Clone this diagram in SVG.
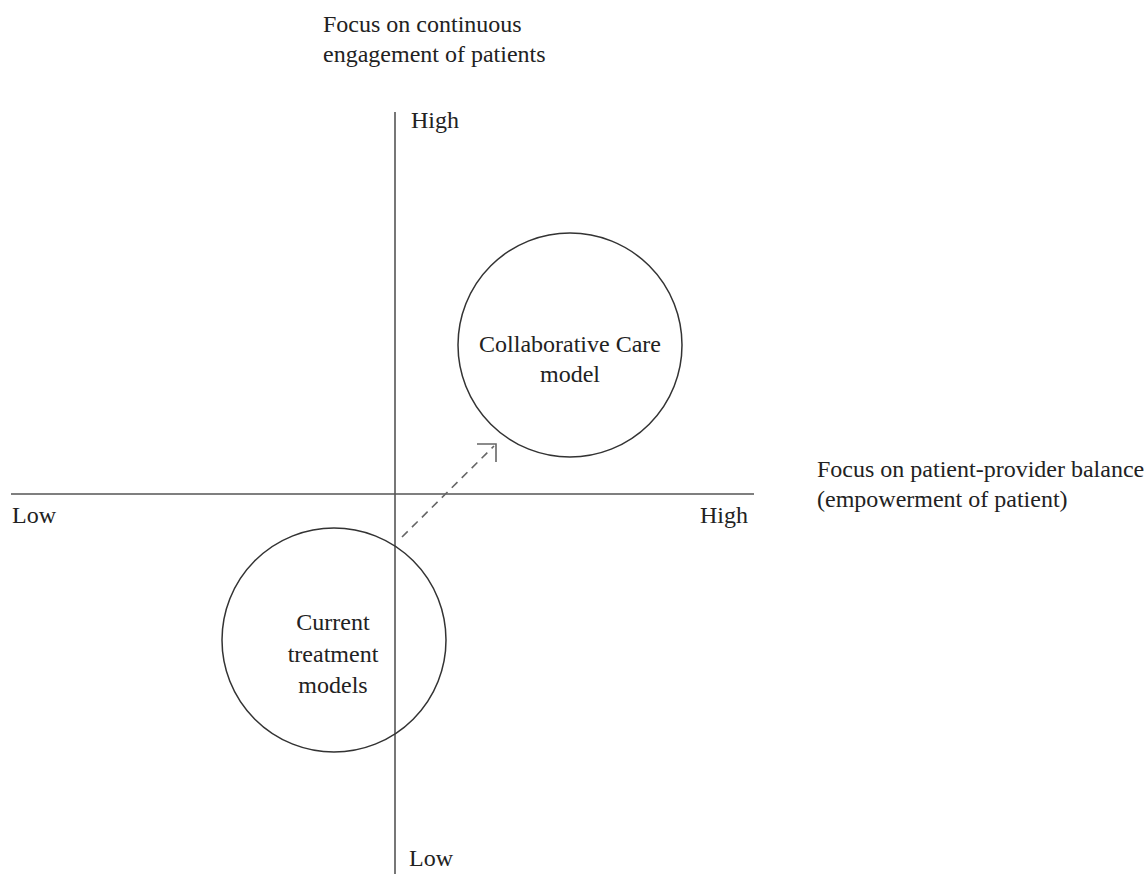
<svg xmlns="http://www.w3.org/2000/svg" width="1146" height="874" viewBox="0 0 1146 874">
<style>
text{font-family:"Liberation Serif","Times New Roman",serif;font-size:24px;fill:#222}
.axis{stroke:#555;stroke-width:1.6;fill:none}
.node circle{fill:none;stroke:#333;stroke-width:1.5}
.mid{text-anchor:middle}
.dash{stroke:#666;stroke-width:1.6;fill:none;stroke-dasharray:8 6}
.head{stroke:#666;stroke-width:1.6;fill:none}
</style>
<rect width="1146" height="874" fill="#fff"/>
<g id="axes">
<line class="axis" x1="395" y1="112" x2="395" y2="874"/>
<line class="axis" x1="11" y1="494" x2="754" y2="494"/>
<text x="323" y="32">Focus on continuous</text>
<text x="323" y="62">engagement of patients</text>
<text x="411" y="128">High</text>
<text x="409" y="866">Low</text>
<text x="12" y="523">Low</text>
<text x="700" y="523">High</text>
<text x="817" y="477">Focus on patient-provider balance</text>
<text x="817" y="507">(empowerment of patient)</text>
</g>
<g id="connectors">
<line class="dash" x1="402" y1="537" x2="494" y2="446"/>
<polyline class="head" points="477,444 496,444 496,462"/>
</g>
<g id="collaborative" class="node">
<circle cx="570" cy="345" r="112"/>
<text class="mid" x="570" y="352">Collaborative Care</text>
<text class="mid" x="570" y="382">model</text>
</g>
<g id="current" class="node">
<circle cx="334" cy="640" r="112"/>
<text class="mid" x="333" y="630">Current</text>
<text class="mid" x="333" y="662">treatment</text>
<text class="mid" x="333" y="693">models</text>
</g>
</svg>
